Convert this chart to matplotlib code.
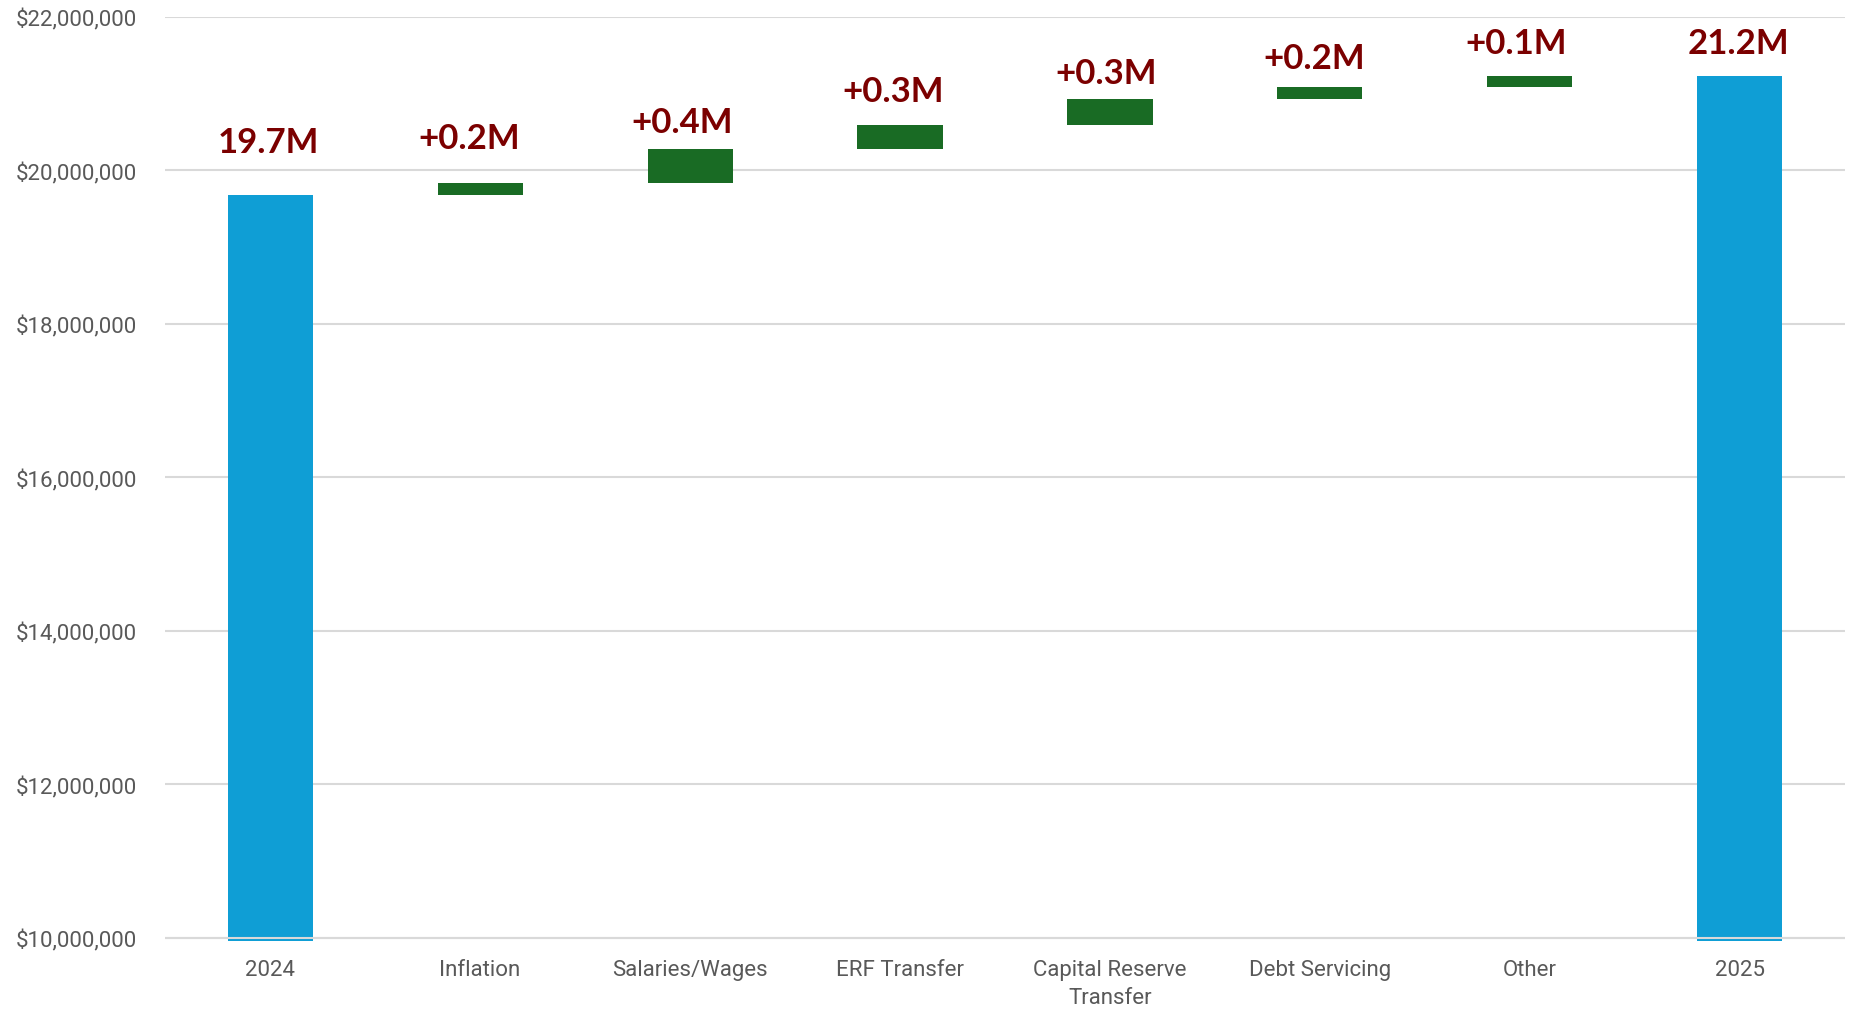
import matplotlib
matplotlib.use("Agg")
import matplotlib.pyplot as plt
from matplotlib import font_manager
from matplotlib.ticker import FuncFormatter, MultipleLocator

# Budget bridge: 2024 total, the drivers of change, and the 2025 total
categories = ["2024", "Inflation", "Salaries/Wages", "ERF Transfer",
              "Capital Reserve\nTransfer", "Debt Servicing", "Other", "2025"]
start_total = 19_680_000
changes = [157_000, 443_000, 313_000, 335_000, 160_000, 139_000]

# Label nudges in points (dx, dy above the bar top)
label_offsets = [(-1, 31), (-8, 25), (-6, 12), (-5, 17),
                 (-3, 12), (-4, 14), (-10, 17), (-1, 17)]

BLUE = "#0F9ED5"
GREEN = "#196B24"
LABEL_RED = "#7B0000"
TICK_GREY = "#595959"
GRID_GREY = "#D9D9D9"


def pick_font(candidates):
    names = {f.name for f in font_manager.fontManager.ttflist}
    for c in candidates:
        if c in names:
            return c
    return "DejaVu Sans"


tick_font = pick_font(["Liberation Sans Narrow", "Roboto", "Liberation Sans"])
label_font = pick_font(["Lato", "Open Sans", "DejaVu Sans"])

end_total = start_total + sum(changes)

# Waterfall geometry derived from the data
bottoms, heights, colors, tops = [], [], [], []
bottoms.append(0)
heights.append(start_total)
colors.append(BLUE)
tops.append(start_total)
running = start_total
for c in changes:
    bottoms.append(running)
    heights.append(c)
    colors.append(GREEN)
    running += c
    tops.append(running)
bottoms.append(0)
heights.append(end_total)
colors.append(BLUE)
tops.append(end_total)

labels = [f"{start_total / 1e6:.1f}M"] + [f"+{c / 1e6:.1f}M" for c in changes] + [f"{end_total / 1e6:.1f}M"]

fig = plt.figure(figsize=(18.57, 10.12), dpi=100)
ax = fig.add_axes([0.0889, 0.0692, 0.9046, 0.913])

x = list(range(len(categories)))
ax.bar(x, heights, bottom=bottoms, width=0.405, color=colors, zorder=2)

ax.set_xlim(-0.5, len(categories) - 0.5)
ax.set_ylim(9_960_000, 22_000_000)
ax.yaxis.set_major_locator(MultipleLocator(2_000_000))
ax.yaxis.set_major_formatter(FuncFormatter(lambda v, p: f"${v:,.0f}"))
ax.grid(axis="y", color=GRID_GREY, linewidth=1.5, zorder=0)
ax.set_axisbelow(True)
ax.axhline(10_000_000, color=GRID_GREY, linewidth=1.5, zorder=3)

for s in ax.spines.values():
    s.set_visible(False)

ax.set_xticks(x)
ax.set_xticklabels(categories, fontfamily=tick_font, fontsize=16,
                   color=TICK_GREY, linespacing=1.45)
ax.tick_params(axis="x", length=0, pad=13)
ax.tick_params(axis="y", length=0, pad=20, labelsize=16, labelcolor=TICK_GREY)
for t in ax.get_yticklabels():
    t.set_fontfamily(tick_font)

for xi, top, lab, (dx, dy) in zip(x, tops, labels, label_offsets):
    ax.annotate(lab, xy=(xi, top), xytext=(dx, dy), textcoords="offset points",
                ha="center", va="baseline", fontsize=25, fontweight="bold",
                fontfamily=label_font, color=LABEL_RED, zorder=4)

fig.savefig("out.png", dpi=100)
